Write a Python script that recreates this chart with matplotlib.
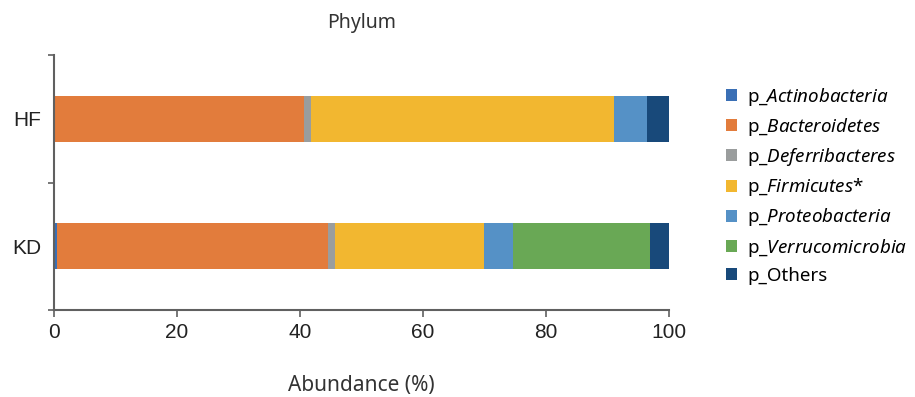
import matplotlib
matplotlib.use("Agg")
import matplotlib.pyplot as plt
import numpy as np

groups = ["KD", "HF"]
phyla = ["Actinobacteria", "Bacteroidetes", "Deferribacteres", "Firmicutes",
         "Proteobacteria", "Verrucomicrobia", "Others"]
legend_labels = ["p_$\\mathit{Actinobacteria}$", "p_$\\mathit{Bacteroidetes}$",
                 "p_$\\mathit{Deferribacteres}$", "p_$\\mathit{Firmicutes}$*",
                 "p_$\\mathit{Proteobacteria}$", "p_$\\mathit{Verrucomicrobia}$",
                 "p_Others"]
# abundance (%) for KD, HF
kd = [0.5, 44.0, 1.2, 24.2, 4.7, 22.3, 3.1]
hf = [0.1, 40.5, 1.2, 49.3, 5.3, 0.0, 3.6]
colors = ["#3a6fb5", "#e27c3c", "#9a9d9d", "#f2b730", "#5591c6", "#69a855", "#18497a"]

plt.rcParams["mathtext.fontset"] = "custom"
plt.rcParams["mathtext.it"] = "Noto Sans:italic"
plt.rcParams["mathtext.rm"] = "Noto Sans"

fig = plt.figure(figsize=(9.15, 3.97), dpi=100)
ax = fig.add_axes([54/915, 1-310/397, 615/915, 255/397])

vals = np.array([kd, hf])
left = np.zeros(len(groups))
for i, name in enumerate(phyla):
    ax.barh(np.arange(len(groups)), vals[:, i], left=left, height=0.36,
            color=colors[i], label=legend_labels[i])
    left += vals[:, i]

ax.set_xlim(0, 100)
ax.set_ylim(-0.5, 1.5)
ax.set_xticks([0, 20, 40, 60, 80, 100])
ax.set_yticks([0, 1])
ax.set_yticklabels(groups)
ax.set_yticks([-0.5, 0.5, 1.5], minor=True)
spine_col = "#606060"
ax.tick_params(axis="y", which="major", length=0, pad=9, labelsize=15)
ax.tick_params(axis="y", which="minor", length=4.5, width=1.2, color=spine_col)
ax.tick_params(axis="x", length=5, width=1.2, color=spine_col, pad=4, labelsize=15)
for lab in ax.get_xticklabels() + ax.get_yticklabels():
    lab.set_fontfamily("Liberation Sans")
    lab.set_color("#222222")
for s in ["top", "right"]:
    ax.spines[s].set_visible(False)
for s in ["left", "bottom"]:
    ax.spines[s].set_color(spine_col)
    ax.spines[s].set_linewidth(1.5)

fig.text(361.5/915, 1-23/397, "Phylum", ha="center", va="center",
         fontsize=14, family="Noto Sans", color="#333333")
ax.set_xlabel("Abundance (%)", fontsize=15, family="Noto Sans", color="#333333")
ax.xaxis.set_label_coords(0.5, (310-386)/255)
ax.xaxis.label.set_va("center")

ax.legend(loc="upper left", bbox_to_anchor=(718/615 - 54/615, 1 - (78-55)/255),
          frameon=False, prop={"family": "Noto Sans", "size": 13.5},
          handlelength=0.62, handleheight=0.62, handletextpad=0.55,
          labelspacing=0.44, borderaxespad=0)

fig.savefig("out.png", dpi=100)
